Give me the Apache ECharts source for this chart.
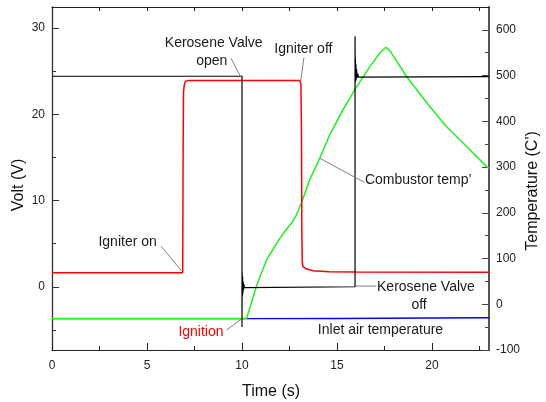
<!DOCTYPE html>
<html><head><meta charset="utf-8">
<script src="https://cdn.jsdelivr.net/npm/echarts@6/dist/echarts.min.js"></script>
<style>html,body{margin:0;padding:0;background:#fff}#c{width:546px;height:402px}</style>
</head><body><div id="c"></div>
<script>
// ---- axes ----
const timeTicks = [0, 5, 10, 15, 20];
const timeMinorTicks = [2.5, 7.5, 12.5, 17.5, 22.5];
const timeTopTicks = [2.5, 5, 7.5, 10, 12.5, 15, 17.5, 20, 22.5];
const voltTicks = [0, 10, 20, 30];
const voltMinorTicks = [-5, 5, 15, 25];
const tempTicks = [-100, 0, 100, 200, 300, 400, 500, 600];
const tempMinorTicks = [-50, 50, 150, 250, 350, 450, 550];
const axisTitles = {x:'Time (s)', left:'Volt (V)', right:"Temperature (C')"};

// ---- series (time s, value) ----
// Kerosene valve signal (V)
const kerosene = [[0,24.4],[10,24.4],[10,-4.65],[10.01,1.6],[10.02,-1.1],[10.03,1.2],[10.045,-0.8],[10.06,0.6],[10.08,-0.4],[10.1,0.3],[10.13,-0.1],[10.16,0.05],[10.2,0],[15.95,0],[15.95,29.05],[15.96,23.7],[15.97,26.5],[15.98,23.8],[15.995,25.8],[16.01,24.0],[16.03,25.2],[16.06,24.2],[16.09,24.7],[16.13,24.3],[16.2,24.4],[23,24.35]];
// Igniter signal (V)
const igniter = [[0,1.62],[6.88,1.62],[6.9,15],[6.92,22.5],[6.96,23.4],[7.02,23.8],[7.15,23.9],[13.05,23.9],[13.1,23.5],[13.13,18],[13.15,6],[13.17,3.0],[13.2,2.35],[13.4,2.05],[13.75,1.85],[14.6,1.74],[16,1.7],[23,1.69]];
// Combustor temperature (C)
const combustorTemp = [[0,-31],[10.24,-31],[10.45,-3],[10.77,41],[11.29,97],[11.99,144],[12.3,162],[12.6,177],[12.86,195],[13.12,221],[13.56,272],[14.09,319],[14.61,370],[15.31,425],[15.98,472],[16.72,519],[17.25,549],[17.57,562],[17.79,554],[18.66,498],[19.89,432],[20.77,388],[21.65,352],[22.88,301],[23,297]];
// Inlet air temperature (C)
const inletTemp = [[0,-31.5],[5,-31.5],[10,-31.5],[15,-31],[20,-30],[23,-29.5]];

// ---- annotations (time, volt) ----
const notes = [
  {text:'Kerosene Valve', at:[8.51,28.26]},
  {text:'open', at:[8.41,26.11]},
  {text:'Igniter off', at:[13.23,27.6]},
  {text:'Combustor temp\u2019', at:[16.47,12.38], align:'left'},
  {text:'Igniter on', at:[3.98,5.19]},
  {text:'Kerosene Valve', at:[19.68,-0.1]},
  {text:'off', at:[19.32,-2.1]},
  {text:'Ignition', at:[7.84,-5.24], color:'#ff0000'},
  {text:'Inlet air temperature', at:[17.29,-5.07]}
];
const leaders = [
  [[9.42,26.48],[9.93,24.35]],
  [[13.26,26.56],[13.09,23.9]],
  [[14.1,14.89],[16.45,12.09]],
  [[5.73,4.73],[6.82,1.83]],
  [[16.0,0.08],[17.05,0.08]],
  [[9.19,-5.01],[9.98,-3.73]]
];

const FONT = '"Liberation Sans", Arial, sans-serif';
const AXC = '#222';
const grid = {left:52, right:57, top:7, bottom:52};

const chart = echarts.init(document.getElementById('c'), null, {renderer:'canvas'});
const lbl = {fontFamily:FONT, fontSize:12, color:'#222'};
chart.setOption({
  animation:false,
  backgroundColor:'#fff',
  grid:[Object.assign({}, grid), Object.assign({}, grid)],
  xAxis:[
    {gridIndex:0, type:'value', position:'bottom', min:0, max:23,
     axisLine:{show:true, onZero:false, lineStyle:{color:AXC, width:1.2}},
     axisTick:{show:true, inside:true, length:7, customValues:timeTicks, lineStyle:{color:AXC}},
     axisLabel:Object.assign({customValues:timeTicks, margin:10}, lbl),
     splitLine:{show:false}},
    {gridIndex:0, type:'value', position:'top', min:0, max:23,
     axisLine:{show:true, onZero:false, lineStyle:{color:AXC, width:1.2}},
     axisTick:{show:true, inside:true, length:4, customValues:timeTopTicks, lineStyle:{color:AXC}},
     axisLabel:{show:false}, splitLine:{show:false}},
    {gridIndex:1, type:'value', position:'bottom', min:0, max:23,
     axisLine:{show:false, onZero:false},
     axisTick:{show:true, inside:true, length:4, customValues:timeMinorTicks, lineStyle:{color:AXC}},
     axisLabel:{show:false}, splitLine:{show:false}}
  ],
  yAxis:[
    {gridIndex:0, type:'value', position:'left', min:-7.33, max:32.43,
     axisLine:{show:true, onZero:false, lineStyle:{color:'#333', width:1.3}},
     axisTick:{show:true, inside:true, length:7, customValues:voltTicks, lineStyle:{color:'#333'}},
     axisLabel:Object.assign({customValues:voltTicks, margin:7}, lbl),
     splitLine:{show:false}},
    {gridIndex:0, type:'value', position:'right', min:-100, max:650,
     axisLine:{show:true, onZero:false, lineStyle:{color:'#555', width:2}},
     axisTick:{show:true, inside:true, length:7, customValues:tempTicks, lineStyle:{color:'#444'}},
     axisLabel:Object.assign({customValues:tempTicks, margin:7}, lbl),
     splitLine:{show:false}},
    {gridIndex:1, type:'value', position:'left', min:-7.33, max:32.43,
     axisLine:{show:false, onZero:false},
     axisTick:{show:true, inside:true, length:4, customValues:voltMinorTicks, lineStyle:{color:'#333'}},
     axisLabel:{show:false}, splitLine:{show:false}},
    {gridIndex:1, type:'value', position:'right', min:-100, max:650,
     axisLine:{show:false, onZero:false},
     axisTick:{show:true, inside:true, length:4, customValues:tempMinorTicks, lineStyle:{color:'#444'}},
     axisLabel:{show:false}, splitLine:{show:false}}
  ],
  series:[
    {name:'Inlet air temperature', type:'line', xAxisIndex:0, yAxisIndex:1, data:inletTemp,
     showSymbol:false, lineStyle:{color:'#0000ff', width:1.4}, z:2},
    {name:'Combustor temp', type:'line', xAxisIndex:0, yAxisIndex:1, data:combustorTemp,
     showSymbol:false, lineStyle:{color:'#22ee22', width:1.5}, z:3},
    {name:'Igniter', type:'line', xAxisIndex:0, yAxisIndex:0, data:igniter,
     showSymbol:false, lineStyle:{color:'#ff0000', width:1.5}, z:4},
    {name:'Kerosene valve', type:'line', xAxisIndex:0, yAxisIndex:0, data:kerosene,
     showSymbol:false, lineStyle:{color:'#000000', width:1.2}, z:5}
  ]
});

function px(p){ return chart.convertToPixel({xAxisIndex:0, yAxisIndex:0}, p); }
const graphics = [];
leaders.forEach(function(l){
  const a = px(l[0]), b = px(l[1]);
  graphics.push({type:'line', shape:{x1:a[0], y1:a[1], x2:b[0], y2:b[1]},
    style:{stroke:'#808080', lineWidth:1}, z:10});
});
notes.forEach(function(n){
  const p = px(n.at);
  graphics.push({type:'text', x:p[0], y:p[1], z:11,
    style:{text:n.text, fontFamily:FONT, fontSize:14, fill:n.color || '#1a1a1a',
      align:n.align || 'center', verticalAlign:'middle'}});
});
// axis titles
const titleStyle = {fontFamily:FONT, fontSize:16, fill:'#111', align:'center', verticalAlign:'middle'};
graphics.push({type:'text', x:271, y:392, style:Object.assign({text:axisTitles.x}, titleStyle)});
graphics.push({type:'text', x:18.5, y:185, rotation:Math.PI/2, style:Object.assign({text:axisTitles.left}, titleStyle)});
graphics.push({type:'text', x:533, y:191, rotation:Math.PI/2, style:Object.assign({text:axisTitles.right}, titleStyle)});
chart.setOption({graphic:graphics});
</script>
</body></html>
